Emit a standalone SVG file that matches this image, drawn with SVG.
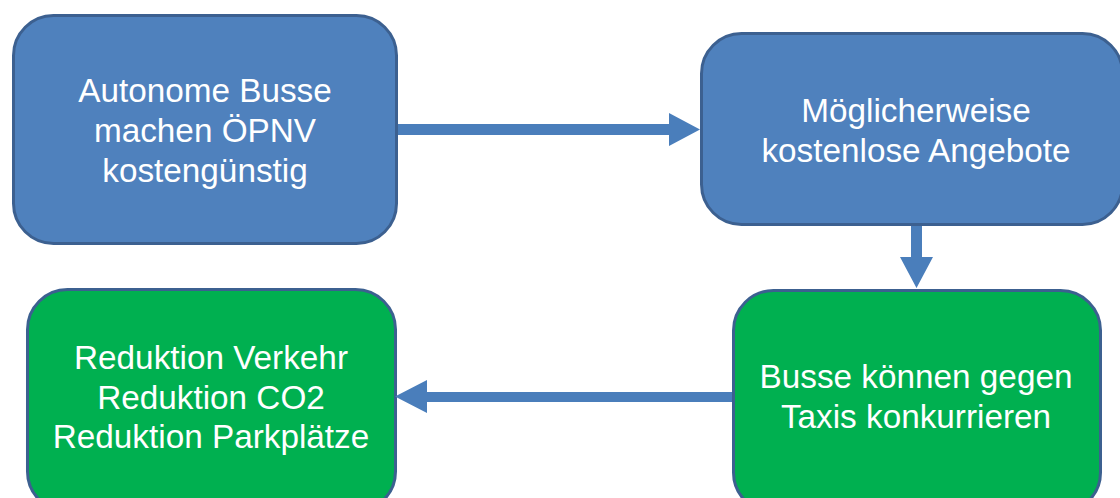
<svg xmlns="http://www.w3.org/2000/svg" width="1120" height="498" viewBox="0 0 1120 498">
  <style>
    .box { stroke: #3C6090; stroke-width: 3; }
    .blue { fill: #4F81BD; }
    .green { fill: #00B050; }
    .lbl { font-family: "Liberation Sans", Arial, sans-serif; font-size: 33.3px; fill: #FFFFFF; text-anchor: middle; }
    .arrow { fill: #4A7EBB; }
  </style>
  <rect width="1120" height="498" fill="#FFFFFF"/>
  <g id="node-autonome">
    <rect class="box blue" x="13.5" y="15.5" width="383" height="228" rx="40" ry="40"/>
    <text class="lbl" x="205" y="102">Autonome Busse</text>
    <text class="lbl" x="205" y="142">machen ÖPNV</text>
    <text class="lbl" x="205" y="182">kostengünstig</text>
  </g>
  <g id="node-kostenlos">
    <rect class="box blue" x="701.5" y="33.5" width="421" height="191" rx="40" ry="40"/>
    <text class="lbl" x="916" y="122">Möglicherweise</text>
    <text class="lbl" x="916" y="162">kostenlose Angebote</text>
  </g>
  <g id="node-reduktion">
    <rect class="box green" x="27.5" y="289.5" width="368" height="222" rx="40" ry="40"/>
    <text class="lbl" x="211" y="369">Reduktion Verkehr</text>
    <text class="lbl" x="211" y="409">Reduktion CO2</text>
    <text class="lbl" x="211" y="448">Reduktion Parkplätze</text>
  </g>
  <g id="node-taxis">
    <rect class="box green" x="733.5" y="290.5" width="367" height="222" rx="40" ry="40"/>
    <text class="lbl" x="916" y="388">Busse können gegen</text>
    <text class="lbl" x="916" y="428">Taxis konkurrieren</text>
  </g>
  <g id="connectors">
    <polygon class="arrow" points="398,124 669,124 669,113 700,129.5 669,146 669,135 398,135"/>
    <polygon class="arrow" points="911,226 922,226 922,257 933,257 916.5,288 900,257 911,257"/>
    <polygon class="arrow" points="732,392 427,392 427,380 395,396.5 427,413 427,402 732,402"/>
  </g>
</svg>
